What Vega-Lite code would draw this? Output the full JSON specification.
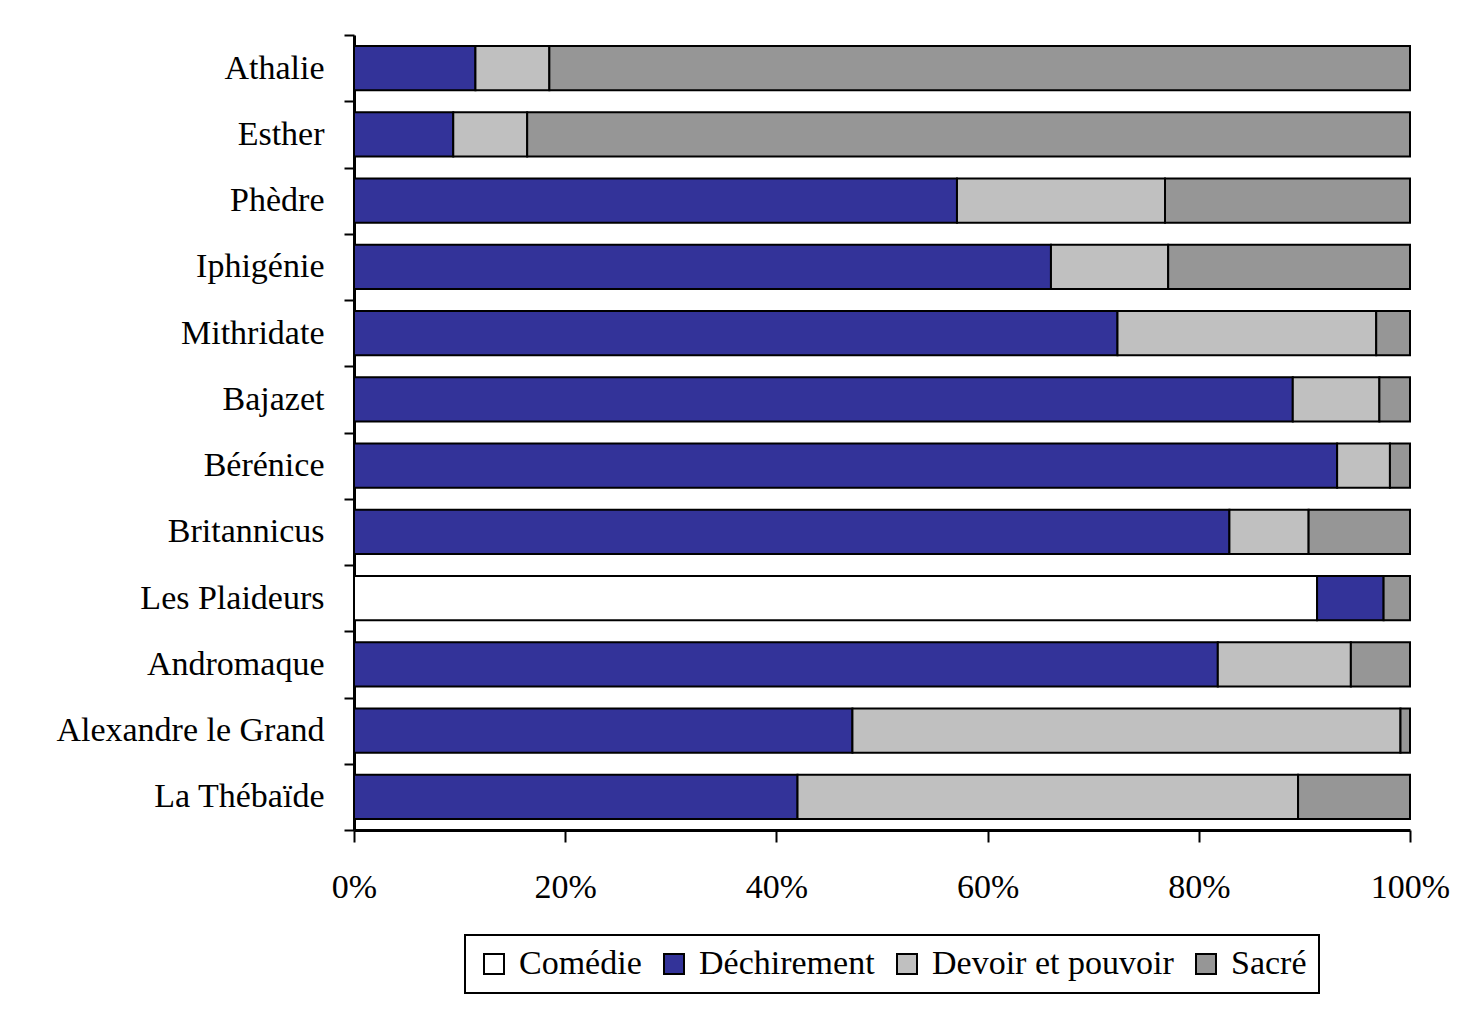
{
  "$schema": "https://vega.github.io/schema/vega-lite/v6.json",
  "autosize": {"type": "none"},
  "padding": {"left": 354, "top": 35, "right": 54, "bottom": 186},
  "width": 1056,
  "height": 795,
  "background": "white",
  "data": {"values": [
    {"play": "Athalie", "theme": "Déchirement", "k": 2, "value": 11.5},
    {"play": "Athalie", "theme": "Devoir et pouvoir", "k": 3, "value": 7.0},
    {"play": "Athalie", "theme": "Sacré", "k": 4, "value": 81.5},
    {"play": "Esther", "theme": "Déchirement", "k": 2, "value": 9.4},
    {"play": "Esther", "theme": "Devoir et pouvoir", "k": 3, "value": 7.0},
    {"play": "Esther", "theme": "Sacré", "k": 4, "value": 83.6},
    {"play": "Phèdre", "theme": "Déchirement", "k": 2, "value": 57.1},
    {"play": "Phèdre", "theme": "Devoir et pouvoir", "k": 3, "value": 19.7},
    {"play": "Phèdre", "theme": "Sacré", "k": 4, "value": 23.2},
    {"play": "Iphigénie", "theme": "Déchirement", "k": 2, "value": 66.0},
    {"play": "Iphigénie", "theme": "Devoir et pouvoir", "k": 3, "value": 11.1},
    {"play": "Iphigénie", "theme": "Sacré", "k": 4, "value": 22.9},
    {"play": "Mithridate", "theme": "Déchirement", "k": 2, "value": 72.3},
    {"play": "Mithridate", "theme": "Devoir et pouvoir", "k": 3, "value": 24.5},
    {"play": "Mithridate", "theme": "Sacré", "k": 4, "value": 3.2},
    {"play": "Bajazet", "theme": "Déchirement", "k": 2, "value": 88.9},
    {"play": "Bajazet", "theme": "Devoir et pouvoir", "k": 3, "value": 8.2},
    {"play": "Bajazet", "theme": "Sacré", "k": 4, "value": 2.9},
    {"play": "Bérénice", "theme": "Déchirement", "k": 2, "value": 93.1},
    {"play": "Bérénice", "theme": "Devoir et pouvoir", "k": 3, "value": 5.0},
    {"play": "Bérénice", "theme": "Sacré", "k": 4, "value": 1.9},
    {"play": "Britannicus", "theme": "Déchirement", "k": 2, "value": 82.9},
    {"play": "Britannicus", "theme": "Devoir et pouvoir", "k": 3, "value": 7.5},
    {"play": "Britannicus", "theme": "Sacré", "k": 4, "value": 9.6},
    {"play": "Les Plaideurs", "theme": "Comédie", "k": 1, "value": 91.2},
    {"play": "Les Plaideurs", "theme": "Déchirement", "k": 2, "value": 6.3},
    {"play": "Les Plaideurs", "theme": "Sacré", "k": 4, "value": 2.5},
    {"play": "Andromaque", "theme": "Déchirement", "k": 2, "value": 81.8},
    {"play": "Andromaque", "theme": "Devoir et pouvoir", "k": 3, "value": 12.6},
    {"play": "Andromaque", "theme": "Sacré", "k": 4, "value": 5.6},
    {"play": "Alexandre le Grand", "theme": "Déchirement", "k": 2, "value": 47.2},
    {"play": "Alexandre le Grand", "theme": "Devoir et pouvoir", "k": 3, "value": 51.9},
    {"play": "Alexandre le Grand", "theme": "Sacré", "k": 4, "value": 0.9},
    {"play": "La Thébaïde", "theme": "Déchirement", "k": 2, "value": 42.0},
    {"play": "La Thébaïde", "theme": "Devoir et pouvoir", "k": 3, "value": 47.4},
    {"play": "La Thébaïde", "theme": "Sacré", "k": 4, "value": 10.6}
  ]},
  "mark": {"type": "bar", "stroke": "black", "strokeWidth": 2, "height": {"band": 0.67}},
  "encoding": {
    "y": {
      "field": "play", "type": "nominal", "sort": null,
      "scale": {"paddingInner": 0, "paddingOuter": 0},
      "axis": {
        "title": null, "tickBand": "extent", "domainColor": "black", "domainWidth": 3,
        "tickColor": "black", "tickWidth": 2, "tickSize": 10,
        "labelFont": "Liberation Serif", "labelFontSize": 34, "labelColor": "black",
        "labelPadding": 20, "labelLimit": 0
      }
    },
    "x": {
      "field": "value", "type": "quantitative", "stack": "normalize",
      "scale": {"domain": [0, 1], "nice": false},
      "axis": {
        "title": null, "values": [0, 0.2, 0.4, 0.6, 0.8, 1], "format": ".0%", "grid": false,
        "domainColor": "black", "domainWidth": 3,
        "tickColor": "black", "tickWidth": 2, "tickSize": 12,
        "labelFont": "Liberation Serif", "labelFontSize": 34, "labelColor": "black",
        "labelPadding": 28, "labelFlush": false
      }
    },
    "color": {
      "field": "theme", "type": "nominal",
      "scale": {"domain": ["Comédie", "Déchirement", "Devoir et pouvoir", "Sacré"],
                "range": ["#ffffff", "#333399", "#c0c0c0", "#969696"]},
      "legend": {
        "title": null, "orient": "none", "legendX": 111, "legendY": 900,
        "direction": "horizontal", "strokeColor": "black",
        "padding": 12, "symbolType": "square", "symbolSize": 400,
        "symbolStrokeColor": "black", "symbolStrokeWidth": 2,
        "labelFont": "Liberation Serif", "labelFontSize": 34, "labelColor": "black",
        "labelLimit": 0, "columnPadding": 15, "labelOffset": 8,
        "encode": {"legend": {"update": {"strokeWidth": {"value": 2}}}}
      }
    },
    "order": {"field": "k", "type": "quantitative"}
  },
  "config": {"view": {"stroke": null}}
}
